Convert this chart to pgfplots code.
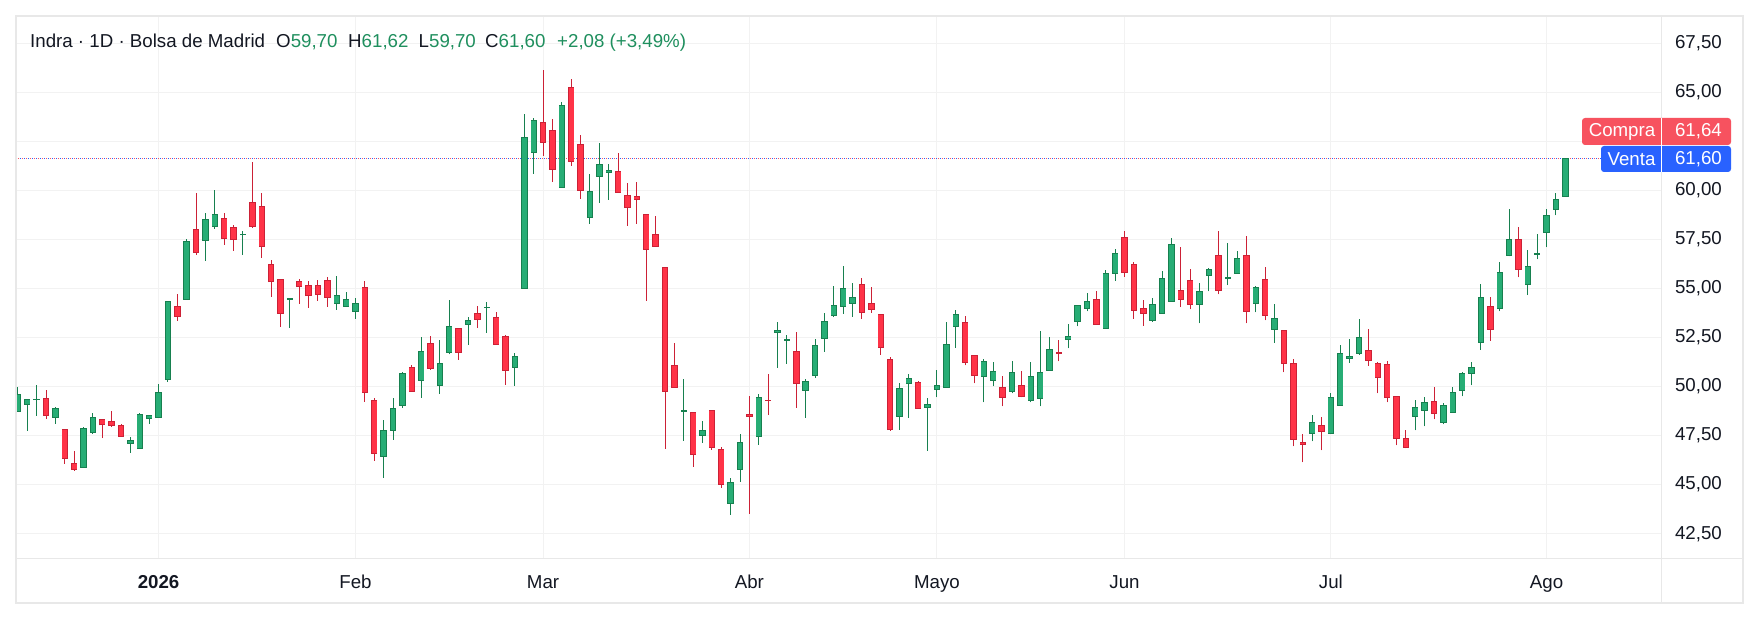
\documentclass[border=0pt]{standalone}
\usepackage{fontspec}
\setmainfont{Liberation Sans}
\usepackage{pgfplots}
\usepackage{pgfplotstable}
\pgfplotsset{compat=1.18}
\definecolor{upfill}{HTML}{27AD75}
\definecolor{upline}{HTML}{17804F}
\definecolor{dnfill}{HTML}{FF3347}
\definecolor{dnline}{HTML}{CC2136}
\definecolor{gridc}{HTML}{F2F2F2}
\definecolor{framec}{HTML}{E8E8E8}
\definecolor{labc}{HTML}{131722}
\definecolor{valc}{HTML}{1F8F5E}
\definecolor{compra}{HTML}{F7525F}
\definecolor{venta}{HTML}{2962FF}

\pgfplotstableread{
x O H L C
-15 48.72 49.96 48.72 49.60
-14 49.09 49.38 47.75 49.35
-13 49.33 50.08 48.51 49.36
-11 48.43 48.96 48.11 48.89
-8 45.88 47.94 45.85 47.87
-7 47.65 48.65 47.58 48.43
-3 47.10 47.41 46.63 47.26
-2 46.85 48.63 46.85 48.58
-1 48.36 48.55 48.09 48.50
0 48.43 50.13 48.43 49.70
1 50.35 54.34 50.25 54.34
3 54.44 57.50 54.44 57.40
5 57.45 58.84 56.41 58.52
6 58.16 60.02 58.04 58.78
9 57.74 57.93 56.72 57.77
14 54.44 54.49 53.00 54.47
19 54.24 55.61 53.92 54.65
20 54.09 54.80 54.09 54.44
21 53.83 54.51 53.46 54.24
24 46.44 48.29 45.35 47.77
25 47.77 49.40 47.29 48.89
26 49.03 50.74 48.92 50.67
28 50.31 52.51 49.43 51.79
30 50.06 52.35 49.64 51.18
31 51.74 54.41 51.64 53.07
33 53.17 53.53 52.13 53.37
35 54.02 54.29 52.74 54.05
38 50.98 51.69 50.04 51.54
39 55.00 63.89 55.00 62.70
40 61.94 63.67 60.85 63.57
43 60.15 64.48 60.15 64.33
46 58.62 60.83 58.30 59.95
47 60.71 62.41 59.37 61.32
48 60.92 61.34 59.52 61.02
56 48.73 50.38 47.24 48.77
58 47.51 48.24 47.14 47.77
61 44.05 45.34 43.47 45.12
62 45.78 47.56 45.15 47.16
64 47.46 49.60 47.04 49.45
66 52.76 53.27 50.96 52.86
67 52.36 52.61 51.16 52.39
69 49.81 50.37 48.41 50.26
70 50.55 52.42 50.45 52.10
71 52.46 53.73 51.78 53.32
72 53.61 55.11 53.53 54.14
73 54.09 56.14 53.71 55.00
74 54.24 55.28 53.56 54.55
79 48.48 50.18 47.80 49.91
80 50.16 50.64 48.41 50.42
82 48.94 49.40 46.73 49.09
83 49.86 50.82 49.45 50.06
84 49.96 53.27 49.96 52.15
85 53.07 53.88 51.98 53.68
88 50.52 51.38 49.19 51.28
89 50.31 51.23 50.01 50.77
91 49.75 51.28 49.65 50.72
93 49.30 51.23 49.19 50.52
94 49.40 52.81 48.99 50.72
95 50.82 52.51 50.82 51.89
97 52.41 53.17 51.94 52.56
98 53.32 54.14 53.07 54.14
99 53.98 54.75 53.83 54.34
101 52.97 55.94 52.97 55.77
102 55.77 57.01 55.39 56.79
106 53.37 54.50 53.30 54.19
107 53.73 55.87 53.73 55.51
108 54.34 57.55 54.34 57.25
111 54.19 55.26 53.22 54.85
112 55.67 56.02 54.85 55.97
114 55.50 57.30 55.16 55.53
115 55.77 56.89 55.77 56.53
117 54.24 55.11 53.78 55.05
119 52.91 54.19 52.23 53.47
123 47.61 48.55 47.20 48.17
125 47.61 49.65 47.61 49.45
126 49.04 52.10 49.04 51.69
127 51.44 52.40 51.22 51.54
128 51.69 53.42 51.62 52.51
134 48.48 49.30 47.77 48.94
135 48.79 49.45 47.97 49.19
137 48.17 49.14 48.07 49.04
138 48.68 49.96 48.68 49.70
139 49.80 50.72 49.50 50.67
140 50.67 51.25 50.06 50.98
141 52.25 55.21 51.88 54.55
143 53.98 56.33 53.83 55.82
144 56.68 59.05 56.63 57.50
146 55.21 56.94 54.65 56.13
147 56.74 57.76 56.48 56.77
148 57.86 59.03 57.09 58.72
149 59.03 59.85 58.72 59.52
150 59.70 61.62 59.70 61.60
}\up

\pgfplotstableread{
x O H L C
-12 49.40 49.82 48.36 48.53
-10 47.82 47.85 46.07 46.34
-9 46.08 46.71 45.71 45.78
-6 48.33 48.35 47.37 48.05
-5 48.22 48.75 47.95 48.00
-4 48.02 48.09 47.46 47.46
2 54.09 54.71 53.36 53.58
4 58.01 59.86 56.72 56.84
7 58.57 58.84 57.23 57.54
8 58.11 58.23 56.92 57.48
10 59.39 61.43 58.10 58.15
11 59.18 59.86 56.57 57.13
12 56.23 56.43 54.58 55.34
13 55.46 55.46 53.05 53.73
15 55.36 55.48 54.22 55.09
16 55.16 55.36 54.02 54.63
17 55.16 55.43 54.38 54.70
18 55.41 55.58 54.07 54.54
22 55.05 55.36 49.23 49.70
23 49.30 49.40 46.22 46.59
27 50.98 51.08 49.75 49.75
29 52.20 52.57 50.86 50.93
32 52.96 52.98 51.37 51.74
34 53.73 54.10 52.99 53.42
36 53.53 53.78 52.15 52.15
37 52.56 52.61 50.09 50.82
41 63.47 66.13 61.77 62.44
42 63.06 63.63 60.44 61.07
44 65.25 65.67 61.26 61.48
45 62.34 62.82 59.57 60.00
49 60.97 61.88 59.90 59.90
50 59.74 60.36 58.20 59.13
51 59.69 60.41 58.30 59.54
52 58.78 58.78 54.37 56.99
53 57.76 58.69 57.14 57.14
54 56.07 56.07 46.83 49.75
55 51.08 52.22 49.96 49.96
57 48.68 48.68 45.91 46.54
59 48.79 48.79 46.78 46.90
60 46.80 46.90 44.84 45.01
63 48.58 49.52 43.52 48.48
65 49.31 50.64 48.57 49.28
68 51.79 52.76 48.92 50.16
75 55.21 55.53 53.46 53.78
76 54.24 55.07 53.76 53.93
77 53.68 53.70 51.62 52.00
78 51.38 51.49 47.75 47.80
81 50.21 50.26 48.89 48.89
86 53.27 53.58 51.08 51.23
87 51.59 51.61 50.16 50.57
90 49.96 50.52 48.99 49.45
92 50.06 50.77 49.45 49.50
96 51.71 52.35 51.28 51.67
100 54.44 54.87 53.17 53.17
103 57.60 57.93 55.60 55.82
104 56.23 56.33 53.46 53.88
105 53.98 54.41 53.10 53.73
109 54.90 57.11 54.04 54.44
110 55.41 55.97 53.93 54.19
113 56.69 57.91 54.70 54.90
116 56.69 57.65 53.22 53.83
118 55.46 56.07 53.37 53.63
120 52.86 52.88 50.72 51.18
121 51.18 51.38 46.95 47.31
122 47.15 47.56 46.13 47.05
124 48.02 48.43 46.75 47.72
129 51.84 52.91 51.06 51.33
130 51.18 51.27 49.65 50.47
131 51.13 51.30 49.19 49.45
132 49.50 49.52 47.00 47.36
133 47.36 47.77 46.85 46.90
136 49.24 49.96 48.33 48.63
142 54.09 54.56 52.34 52.91
145 57.50 58.11 55.56 55.97
}\down

\newcommand{\fs}{\fontsize{18.7}{22}\selectfont}

\begin{document}
\begin{tikzpicture}
\fill[white] (0,0) rectangle (1760pt,620pt);
\begin{axis}[
  at={(16pt,61pt)}, anchor=south west,
  scale only axis, width=1645pt, height=543pt,
  xmin=-15.2, xmax=160.2, ymin=41.21, ymax=68.88,
  axis line style={draw=none},
  tick style={draw=none}, major tick length=0pt,
  xtick={0,21,41,63,83,103,125,148},
  xticklabels={\textbf{2026},Feb,Mar,Abr,Mayo,Jun,Jul,Ago},
  ytick={42.5,45,47.5,50,52.5,55,57.5,60,62.5,65,67.5},
  yticklabels={{42,50},{45,00},{47,50},{50,00},{52,50},{55,00},{57,50},{60,00},{},{65,00},{67,50}},
  grid=major, major grid style={draw=gridc, line width=1pt},
  yticklabel pos=right,
  ticklabel style={font=\fs, text=labc},
  xticklabel style={anchor=base, yshift=-29.7pt, inner sep=0pt},
  yticklabel style={anchor=east, xshift=61pt, inner sep=0pt},
]
% price lines
\addplot[forget plot, draw=venta, line width=1pt, dash pattern=on 1pt off 3pt] coordinates {(-15.2,61.60) (160.2,61.60)};
\addplot[forget plot, draw=compra, line width=1pt, dash pattern=on 1pt off 3pt, dash phase=2pt] coordinates {(-15.2,61.64) (160.2,61.64)};
% up candles
\addplot[forget plot, draw=none, mark=none, error bars/.cd, y dir=plus, y explicit, error mark=none,
  error bar style={draw=upline, line width=1pt, solid}]
  table[x=x, y=L, y error plus expr=\thisrow{H}-\thisrow{L}] {\up};
\addplot[forget plot, draw=none, mark=none, error bars/.cd, y dir=plus, y explicit, error mark=none,
  error bar style={draw=upline, line width=6.4pt, solid}]
  table[x=x, y expr=\thisrow{O}-0.0255, y error plus expr=\thisrow{C}-\thisrow{O}+0.051] {\up};
\addplot[forget plot, draw=none, mark=none, error bars/.cd, y dir=plus, y explicit, error mark=none,
  error bar style={draw=upfill, line width=4.8pt, solid}]
  table[x=x, y expr=\thisrow{O}+0.0255, y error plus expr={max(\thisrow{C}-\thisrow{O}-0.051,0)}] {\up};
% down candles
\addplot[forget plot, draw=none, mark=none, error bars/.cd, y dir=plus, y explicit, error mark=none,
  error bar style={draw=dnline, line width=1pt, solid}]
  table[x=x, y=L, y error plus expr=\thisrow{H}-\thisrow{L}] {\down};
\addplot[forget plot, draw=none, mark=none, error bars/.cd, y dir=plus, y explicit, error mark=none,
  error bar style={draw=dnline, line width=6.4pt, solid}]
  table[x=x, y expr=\thisrow{C}-0.0255, y error plus expr=\thisrow{O}-\thisrow{C}+0.051] {\down};
\addplot[forget plot, draw=none, mark=none, error bars/.cd, y dir=plus, y explicit, error mark=none,
  error bar style={draw=dnfill, line width=4.8pt, solid}]
  table[x=x, y expr=\thisrow{C}+0.0255, y error plus expr={max(\thisrow{O}-\thisrow{C}-0.051,0)}] {\down};
\end{axis}
% frame
\draw[framec, line width=1.5pt] (16pt,17pt) rectangle (1743pt,604pt);
\draw[framec, line width=1pt] (1661pt,17pt) -- (1661pt,604pt);
\draw[framec, line width=1pt] (16pt,61pt) -- (1743pt,61pt);
% price labels
\fill[compra, rounded corners=3pt] (1582pt,475pt) rectangle (1731pt,502pt);
\fill[venta, rounded corners=3pt] (1601pt,448pt) rectangle (1731pt,474pt);
\draw[white, line width=1pt] (1661pt,448pt) -- (1661pt,502pt);
\node[font=\fs, text=white, inner sep=0pt, anchor=center] at (1622pt,488.5pt) {Compra};
\node[font=\fs, text=white, inner sep=0pt, anchor=east] at (1722pt,488.5pt) {61,64};
\node[font=\fs, text=white, inner sep=0pt, anchor=center] at (1631.5pt,461pt) {Venta};
\node[font=\fs, text=white, inner sep=0pt, anchor=east] at (1722pt,461pt) {61,60};
% header
\node[font=\fs, text=labc, inner sep=0pt, anchor=base west] at (30pt,572.3pt) {Indra · 1D · Bolsa de Madrid};
\node[font=\fs, text=labc, inner sep=0pt, anchor=base west] at (276pt,572.3pt) {O\textcolor{valc}{59,70}};
\node[font=\fs, text=labc, inner sep=0pt, anchor=base west] at (348pt,572.3pt) {H\textcolor{valc}{61,62}};
\node[font=\fs, text=labc, inner sep=0pt, anchor=base west] at (418.5pt,572.3pt) {L\textcolor{valc}{59,70}};
\node[font=\fs, text=labc, inner sep=0pt, anchor=base west] at (485pt,572.3pt) {C\textcolor{valc}{61,60}};
\node[font=\fs, text=valc, inner sep=0pt, anchor=base west] at (557pt,572.3pt) {+2,08 (+3,49\%)};
\pgfresetboundingbox
\path[use as bounding box] (0,0) rectangle (1760pt,620pt);
\end{tikzpicture}
\end{document}
